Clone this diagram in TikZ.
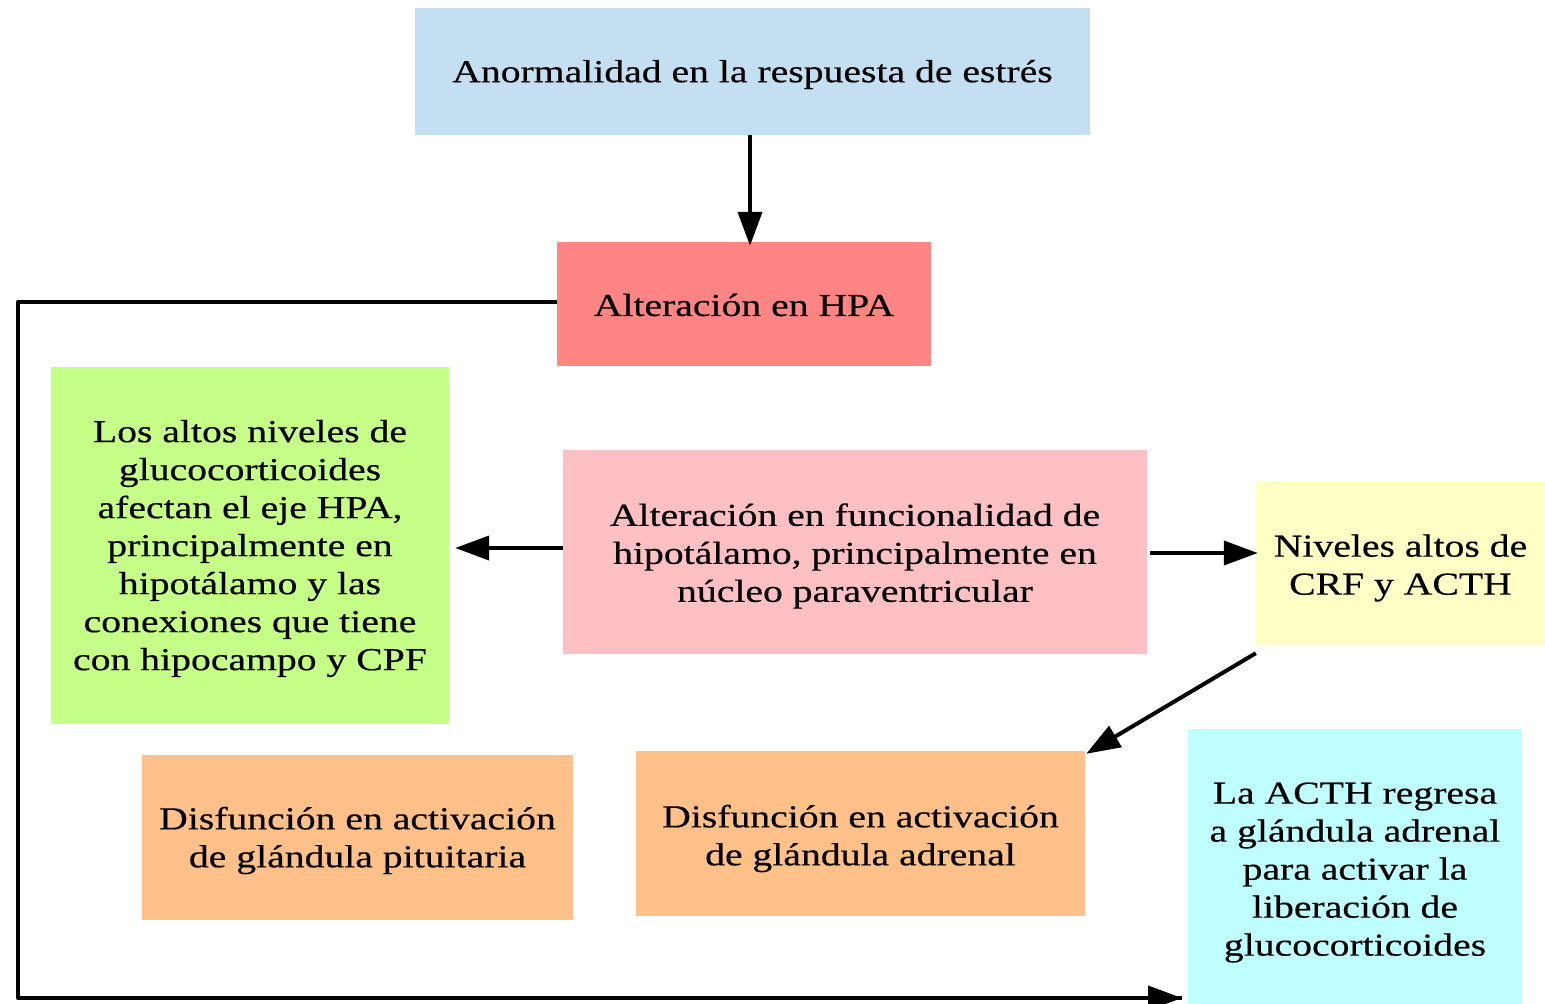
\documentclass[tikz,border=0pt]{standalone}
\usepackage{fontspec}
\setmainfont[FakeStretch=1.24,FakeBold=0.4]{Liberation Serif}
\usetikzlibrary{arrows.meta}
\definecolor{cblue}{HTML}{C5DFF2}
\definecolor{cred}{HTML}{FF8585}
\definecolor{cgreen}{HTML}{C6FF88}
\definecolor{cpink}{HTML}{FFC0C4}
\definecolor{cyellow}{HTML}{FFFFC6}
\definecolor{corange}{HTML}{FFC08A}
\definecolor{ccyan}{HTML}{C0FFFF}
\tikzset{
  boxs/.style={rectangle, inner sep=0pt},
  txt/.style={inner sep=0pt, align=center, font=\fontsize{32}{38}\selectfont},
  conn/.style={line width=4pt, -{Triangle[length=34pt,width=24pt]}},
}
\begin{document}
\begin{tikzpicture}[x=1pt,y=-1pt]
\useasboundingbox (0,0) rectangle (1545,1004);
\node[boxs, fill=cblue, minimum width=675pt, minimum height=127pt] (top) at (752.5,71.5) {};
\node[boxs, fill=cred, minimum width=374pt, minimum height=124pt] (hpa) at (744,304) {};
\node[boxs, fill=cgreen, minimum width=398pt, minimum height=357pt] (green) at (250,545.5) {};
\node[boxs, fill=cpink, minimum width=584pt, minimum height=204pt] (pink) at (855,552) {};
\node[boxs, fill=cyellow, minimum width=289pt, minimum height=164pt] (yellow) at (1400.5,563) {};
\node[boxs, fill=corange, minimum width=431pt, minimum height=165pt] (or1) at (357.5,837.5) {};
\node[boxs, fill=corange, minimum width=449pt, minimum height=165pt] (or2) at (860.5,833.5) {};
\node[boxs, fill=ccyan, minimum width=334pt, minimum height=275pt] (cyan) at (1355,866.5) {};
\node[txt] (ttop) at ([yshift=-3pt]top.center) {Anormalidad en la respuesta de estrés};
\node[txt] (thpa) at ([yshift=-1pt]hpa.center) {Alteración en HPA};
\node[txt] (tgreen) at ([yshift=-3pt]green.center) {Los altos niveles de\\glucocorticoides\\afectan el eje HPA,\\principalmente en\\hipotálamo y las\\conexiones que tiene\\con hipocampo y CPF};
\node[txt] (tpink) at ([yshift=-4pt]pink.center) {Alteración en funcionalidad de\\hipotálamo, principalmente en\\núcleo paraventricular};
\node[txt] (tyellow) at ([yshift=-5pt]yellow.center) {Niveles altos de\\CRF y ACTH};
\node[txt] (tor1) at ([yshift=-3pt]or1.center) {Disfunción en activación\\de glándula pituitaria};
\node[txt] (tor2) at ([yshift=-5pt]or2.center) {Disfunción en activación\\de glándula adrenal};
\node[txt] (tcyan) at ([yshift=-6pt]cyan.center) {La ACTH regresa\\a glándula adrenal\\para activar la\\liberación de\\glucocorticoides};
\coordinate (c1) at (18,302);
\coordinate (c2) at (18,998);
\coordinate (c3) at (1182,998);
\draw[conn] (top.south -| 750,0) -- ([yshift=-4pt]hpa.north -| 750,0);
\draw[conn] (pink.west |- 0,548) -- ([xshift=6pt]green.east |- 0,548);
\draw[conn] ([xshift=3pt]pink.east |- 0,553) -- ([xshift=2pt]yellow.west |- 0,553);
\draw[conn] ([yshift=-8pt]yellow.south west) -- ([xshift=1pt,yshift=-3pt]or2.north east);
\draw[line width=4pt, line join=round] (hpa.west |- c1) -- (c1) -- (c2) -- (c3);
\draw[conn] (c2) -- (c3);
\end{tikzpicture}
\end{document}
